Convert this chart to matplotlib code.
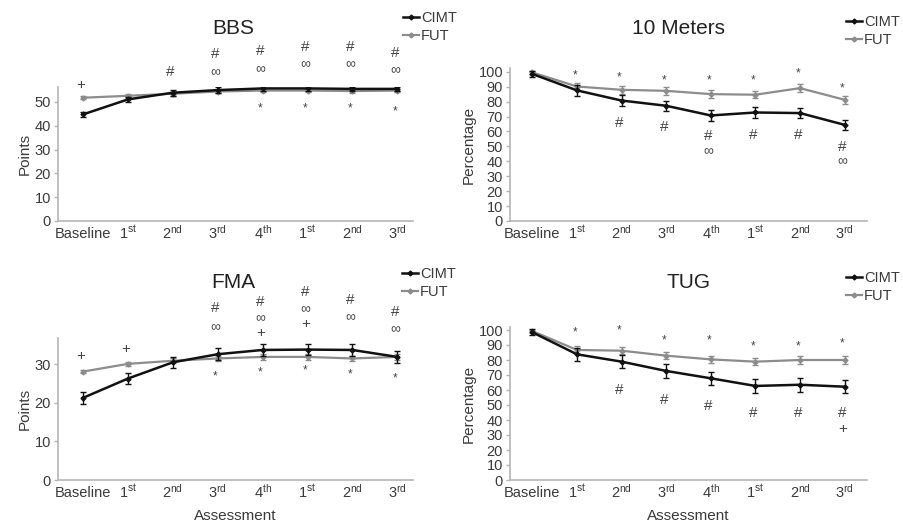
import matplotlib
matplotlib.use("Agg")
from matplotlib import pyplot as plt

plt.rcParams['font.family'] = ['Liberation Sans Narrow', 'Liberation Sans', 'DejaVu Sans']
plt.rcParams['mathtext.fontset'] = 'custom'
plt.rcParams['mathtext.rm'] = 'Liberation Sans'
plt.rcParams['mathtext.it'] = 'Liberation Sans'

# x categories (assessment points)
labels = ['Baseline', '1$^{\\mathrm{st}}$', '2$^{\\mathrm{nd}}$', '3$^{\\mathrm{rd}}$',
          '4$^{\\mathrm{th}}$', '1$^{\\mathrm{st}}$', '2$^{\\mathrm{nd}}$', '3$^{\\mathrm{rd}}$']
x = list(range(len(labels)))

# BBS (points)
bbs_cimt = [44.8, 51.1, 53.9, 55.0, 55.7, 55.7, 55.5, 55.5]
bbs_cimt_err = [1.2, 1.2, 1.2, 1.1, 1.0, 1.0, 1.0, 1.0]
bbs_fut = [51.8, 52.6, 53.5, 54.4, 54.8, 54.8, 54.6, 54.8]
bbs_fut_err = [0.6, 0.6, 0.8, 0.8, 0.8, 0.8, 0.8, 0.8]
bbs_marks = [(0, 57.1, '+'), (2, 62.5, '#'),
             (3, 70.0, '#'), (3, 62.5, '∞'),
             (4, 71.5, '#'), (4, 63.8, '∞'), (4, 47.5, '*'),
             (5, 73.2, '#'), (5, 66.0, '∞'), (5, 47.5, '*'),
             (6, 73.2, '#'), (6, 66.0, '∞'), (6, 47.5, '*'),
             (7, 70.4, '#'), (7, 63.4, '∞'), (7, 46.2, '*')]

# 10 meters (percentage)
m10_cimt = [98.5, 87.5, 80.7, 77.2, 70.7, 72.7, 72.3, 64.4]
m10_cimt_err = [2.0, 3.5, 3.5, 3.5, 3.5, 3.5, 3.5, 3.5]
m10_fut = [99.5, 90.1, 87.9, 87.2, 85.0, 84.6, 89.0, 81.2]
m10_fut_err = [1.0, 2.5, 2.5, 2.5, 2.5, 2.5, 2.5, 2.5]
m10_marks = [(1, 97.3, '*'), (2, 96.0, '*'), (3, 94.0, '*'), (4, 94.0, '*'),
             (5, 94.0, '*'), (6, 98.6, '*'), (7, 89.0, '*'),
             (2, 65.6, '#'), (3, 63.0, '#'), (4, 57.0, '#'), (4, 46.5, '∞'),
             (5, 57.7, '#'), (6, 57.7, '#'), (7, 49.9, '#'), (7, 39.8, '∞')]

# FMA (points)
fma_cimt = [21.3, 26.3, 30.5, 32.6, 33.7, 33.8, 33.7, 31.9]
fma_cimt_err = [1.5, 1.5, 1.5, 1.5, 1.5, 1.5, 1.5, 1.5]
fma_fut = [28.1, 30.1, 30.9, 31.5, 31.9, 31.9, 31.5, 31.9]
fma_fut_err = [0.4, 0.5, 0.7, 0.7, 0.7, 0.7, 0.7, 0.7]
fma_marks = [(0, 32.2, '+'), (1, 33.9, '+'),
             (3, 44.5, '#'), (3, 39.7, '∞'), (3, 26.8, '*'),
             (4, 46.2, '#'), (4, 41.9, '∞'), (4, 38.2, '+'), (4, 27.8, '*'),
             (5, 48.8, '#'), (5, 44.2, '∞'), (5, 40.4, '+'), (5, 28.5, '*'),
             (6, 46.6, '#'), (6, 42.2, '∞'), (6, 27.4, '*'),
             (7, 43.6, '#'), (7, 39.0, '∞'), (7, 26.3, '*')]

# TUG (percentage)
tug_cimt = [98.5, 83.8, 78.9, 72.7, 67.8, 62.7, 63.5, 62.2]
tug_cimt_err = [2.0, 4.5, 4.5, 4.5, 4.5, 4.5, 4.5, 4.5]
tug_fut = [99.3, 86.7, 86.2, 82.9, 80.4, 78.9, 80.0, 80.0]
tug_fut_err = [1.0, 2.5, 2.5, 2.5, 2.5, 2.5, 2.5, 2.5]
tug_marks = [(1, 98.2, '*'), (2, 99.6, '*'), (3, 93.3, '*'), (4, 93.3, '*'),
             (5, 89.3, '*'), (6, 89.3, '*'), (7, 91.1, '*'),
             (2, 60.0, '#'), (3, 53.3, '#'), (4, 49.3, '#'), (5, 44.9, '#'),
             (6, 44.9, '#'), (7, 44.9, '#'), (7, 33.8, '+')]

W, H = 904, 525
fig = plt.figure(figsize=(W / 100, H / 100), dpi=100)
text_col = '#3a3a3a'
spine_col = '#b5b5b5'
cimt_col = '#111111'
fut_col = '#8c8c8c'


def px_axes(left, right, bottom, top):
    return fig.add_axes([left / W, (H - bottom) / H, (right - left) / W, (bottom - top) / H])


def panel(ax, title, cimt, cimt_err, fut, fut_err, marks, ylim, yticks, ylabel,
          xlim, title_xy, leg_xy):
    ax.errorbar(x, fut, yerr=fut_err, color=fut_col, lw=1.6, marker='D', ms=2.5,
                capsize=2, elinewidth=1, capthick=1, label='FUT', zorder=2)
    ax.errorbar(x, cimt, yerr=cimt_err, color=cimt_col, lw=1.8, marker='D', ms=2.5,
                capsize=2, elinewidth=1, capthick=1, label='CIMT', zorder=3)
    ax.set_xlim(*xlim)
    ax.set_ylim(*ylim)
    ax.set_yticks(yticks)
    ax.set_xticks(x)
    ax.set_xticklabels(labels)
    # align labels on their baseline so superscripts rise above it
    for t in ax.get_xticklabels():
        t.set_verticalalignment('baseline')
    for s in ['top', 'right']:
        ax.spines[s].set_visible(False)
    for s in ['left', 'bottom']:
        ax.spines[s].set_color(spine_col)
        ax.spines[s].set_linewidth(1.2)
    ax.tick_params(axis='x', length=0, pad=12.5, labelsize=10.5, colors=text_col)
    ax.tick_params(axis='y', length=3, width=1, color=spine_col, pad=2,
                   labelsize=10.5, labelcolor=text_col)
    ax.set_ylabel(ylabel, fontsize=11, color=text_col, labelpad=2)
    fig.text(title_xy[0] / W, 1 - title_xy[1] / H, title, fontsize=15,
             ha='center', va='center', color='#222222')
    for i, yv, sym in marks:
        fs = 8.5 if sym == '*' else (10 if sym == '∞' else 11)
        ax.text(i - 0.05, yv, sym, ha='center', va='center', fontsize=fs,
                color='#444444', clip_on=False)
    h, l = ax.get_legend_handles_labels()
    h = [hh[0] for hh in h]
    ax.legend(h[::-1], l[::-1], loc='upper left',
              bbox_to_anchor=(leg_xy[0] / W, 1 - leg_xy[1] / H),
              bbox_transform=fig.transFigure, frameon=False, fontsize=10.5,
              handlelength=1.1, handletextpad=0.15, labelspacing=0.3,
              borderpad=0, borderaxespad=0, labelcolor=text_col)


ax1 = px_axes(58, 413, 221, 87)
panel(ax1, 'BBS', bbs_cimt, bbs_cimt_err, bbs_fut, bbs_fut_err, bbs_marks,
      (0, 56.3), [0, 10, 20, 30, 40, 50], 'Points', (-0.56, 7.35),
      (233, 28), (403, 11))

ax2 = px_axes(510, 867, 221, 68)
panel(ax2, '10 Meters', m10_cimt, m10_cimt_err, m10_fut, m10_fut_err, m10_marks,
      (0, 102.5), list(range(0, 101, 10)), 'Percentage', (-0.5, 7.5),
      (679, 28), (846, 15))

ax3 = px_axes(58, 413, 480, 338)
panel(ax3, 'FMA', fma_cimt, fma_cimt_err, fma_fut, fma_fut_err, fma_marks,
      (0, 36.8), [0, 10, 20, 30], 'Points', (-0.56, 7.35),
      (233, 283), (402, 267))

ax4 = px_axes(510, 867, 480, 327)
panel(ax4, 'TUG', tug_cimt, tug_cimt_err, tug_fut, tug_fut_err, tug_marks,
      (0, 102), list(range(0, 101, 10)), 'Percentage', (-0.5, 7.5),
      (689, 283), (846, 271))

# x axis titles
ax3.set_xlabel('Assessment', fontsize=11, color=text_col, labelpad=6)
ax4.set_xlabel('Assessment', fontsize=11, color=text_col, labelpad=6)

fig.savefig('out.png', dpi=100)
